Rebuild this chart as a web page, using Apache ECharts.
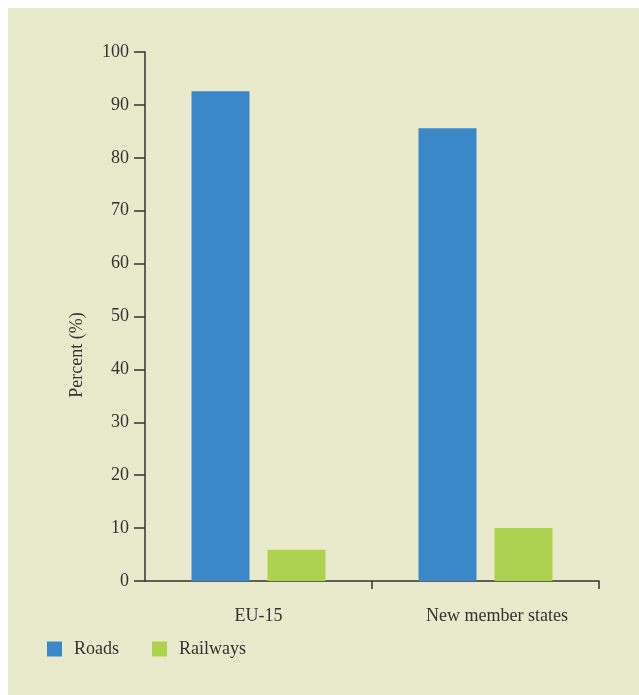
<!DOCTYPE html>
<html>
<head>
<meta charset="utf-8">
<script src="https://cdn.jsdelivr.net/npm/echarts@6/dist/echarts.min.js"></script>
<style>
  html, body { margin: 0; padding: 0; background: #ffffff; }
  #chart { position: absolute; left: 8px; top: 8px; width: 631px; height: 687px; background: #e9e9cb; }
</style>
</head>
<body>
<div id="chart"></div>
<script>
// Share of inland freight by mode
const categories = ['EU-15', 'New member states'];
const roads = [92.6, 85.6];
const railways = [5.9, 10.0];
const yTicks = { min: 0, max: 100, interval: 10 };
// category boundaries that get a downward tick (the left one sits on the y axis)
const boundaryTicks = [1, 2];

const FONT = '"Liberation Serif", "DejaVu Serif", serif';
const INK = '#333333';

const chart = echarts.init(document.getElementById('chart'), null, { renderer: 'canvas' });

chart.setOption({
  backgroundColor: '#e9e9cb',
  animation: false,
  grid: { left: 137, right: 40, top: 44, bottom: 114, containLabel: false },
  legend: {
    left: 34,
    top: 627,
    itemWidth: 15,
    itemHeight: 15,
    itemGap: 33,
    icon: 'rect',
    textStyle: { fontFamily: FONT, fontSize: 18, color: INK, padding: [0, 0, 0, 7] },
    data: ['Roads', 'Railways']
  },
  xAxis: [{
    type: 'category',
    data: categories,
    boundaryGap: true,
    axisLine: { lineStyle: { color: INK, width: 1.5 } },
    axisTick: { show: false },
    axisLabel: {
      fontFamily: FONT,
      fontSize: 18,
      color: INK,
      margin: 26,
      formatter: function (v) {
        return v === 'New member states' ? '{r|' + v + '}' : v;
      },
      rich: {
        r: { fontFamily: FONT, fontSize: 18, color: INK, padding: [0, 0, 0, 23] }
      }
    },
    splitLine: { show: false }
  }, {
    // tick-only companion axis marking the category boundaries
    type: 'value',
    position: 'bottom',
    min: 0,
    max: categories.length,
    axisLine: { show: false },
    axisTick: {
      show: true,
      length: 8,
      customValues: boundaryTicks,
      lineStyle: { color: INK, width: 1.5 }
    },
    axisLabel: { show: false },
    splitLine: { show: false }
  }],
  yAxis: {
    type: 'value',
    min: yTicks.min,
    max: yTicks.max,
    interval: yTicks.interval,
    axisLine: { show: true, lineStyle: { color: INK, width: 1.5 } },
    axisTick: { show: true, length: 11, lineStyle: { color: INK, width: 1.5 } },
    axisLabel: { fontFamily: FONT, fontSize: 18, color: INK, margin: 16 },
    splitLine: { show: false }
  },
  graphic: [{
    type: 'text',
    x: 69,
    y: 347,
    rotation: Math.PI / 2,
    style: {
      text: 'Percent (%)',
      font: '18px ' + FONT,
      fill: INK,
      textAlign: 'center',
      textVerticalAlign: 'middle'
    }
  }],
  series: [
    {
      name: 'Roads',
      type: 'bar',
      data: roads,
      barWidth: 58,
      barGap: '31%',
      itemStyle: { color: '#3a88c8' }
    },
    {
      name: 'Railways',
      type: 'bar',
      data: railways,
      barWidth: 58,
      barGap: '31%',
      itemStyle: { color: '#add250' }
    }
  ]
});
</script>
</body>
</html>
